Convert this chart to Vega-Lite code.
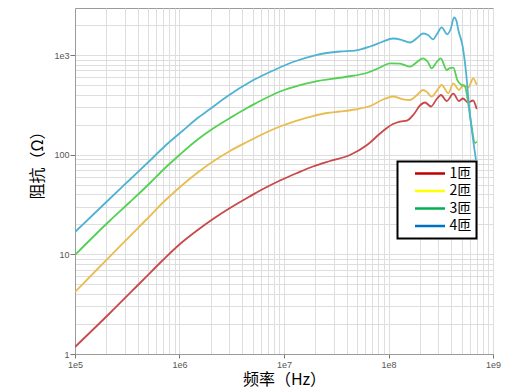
{
  "$schema": "https://vega.github.io/schema/vega-lite/v6.json",
  "width": 418,
  "height": 346,
  "autosize": {"type": "none"},
  "padding": {"left": 75, "top": 8, "right": 33, "bottom": 38},
  "background": "white",
  "config": {
    "view": {"stroke": "#9a9a9a", "strokeWidth": 1},
    "axis": {
      "labelFont": "Liberation Sans",
      "labelFontSize": 9,
      "labelColor": "#555555",
      "titleFont": "Noto Sans CJK SC",
      "titleFontSize": 16,
      "titleFontWeight": "normal",
      "titleColor": "#000000",
      "domainColor": "#9a9a9a",
      "tickColor": "#777777",
      "gridColor": "#dedede",
      "gridWidth": 1,
      "labelOverlap": false,
      "labelFlush": false
    }
  },
  "data": {
    "values": [
      {"f": 100000, "z": 1.176, "s": "1匝"},
      {"f": 216200, "z": 2.578, "s": "1匝"},
      {"f": 447400, "z": 5.527, "s": "1匝"},
      {"f": 695100, "z": 8.772, "s": "1匝"},
      {"f": 1011000, "z": 12.69, "s": "1匝"},
      {"f": 1471000, "z": 17.34, "s": "1匝"},
      {"f": 2092000, "z": 22.62, "s": "1匝"},
      {"f": 3043000, "z": 29.16, "s": "1匝"},
      {"f": 4424000, "z": 36.74, "s": "1匝"},
      {"f": 6295000, "z": 45.23, "s": "1匝"},
      {"f": 9156000, "z": 55.05, "s": "1匝"},
      {"f": 13320000, "z": 65.46, "s": "1匝"},
      {"f": 18940000, "z": 76.06, "s": "1匝"},
      {"f": 27550000, "z": 86.39, "s": "1匝"},
      {"f": 42810000, "z": 99.2, "s": "1匝"},
      {"f": 62290000, "z": 125.0, "s": "1匝"},
      {"f": 88600000, "z": 172.8, "s": "1匝"},
      {"f": 110400000, "z": 203.0, "s": "1匝"},
      {"f": 128800000, "z": 215.1, "s": "1匝"},
      {"f": 150300000, "z": 220.1, "s": "1匝"},
      {"f": 175400000, "z": 255.8, "s": "1匝"},
      {"f": 200100000, "z": 311.3, "s": "1匝"},
      {"f": 223500000, "z": 333.7, "s": "1匝"},
      {"f": 255100000, "z": 304.2, "s": "1匝"},
      {"f": 284900000, "z": 353.5, "s": "1匝"},
      {"f": 318000000, "z": 396.7, "s": "1匝"},
      {"f": 360600000, "z": 345.4, "s": "1匝"},
      {"f": 417000000, "z": 408.9, "s": "1匝"},
      {"f": 472800000, "z": 345.4, "s": "1匝"},
      {"f": 516400000, "z": 365.9, "s": "1匝"},
      {"f": 576500000, "z": 333.7, "s": "1匝"},
      {"f": 643500000, "z": 349.5, "s": "1匝"},
      {"f": 698200000, "z": 287.2, "s": "1匝"},

      {"f": 100000, "z": 4.19, "s": "2匝"},
      {"f": 173500, "z": 7.549, "s": "2匝"},
      {"f": 336000, "z": 15.27, "s": "2匝"},
      {"f": 488700, "z": 22.62, "s": "2匝"},
      {"f": 695100, "z": 33.11, "s": "2匝"},
      {"f": 1011000, "z": 47.37, "s": "2匝"},
      {"f": 1471000, "z": 65.46, "s": "2匝"},
      {"f": 2092000, "z": 85.38, "s": "2匝"},
      {"f": 3043000, "z": 108.8, "s": "2匝"},
      {"f": 4424000, "z": 134.0, "s": "2匝"},
      {"f": 6295000, "z": 161.2, "s": "2匝"},
      {"f": 9156000, "z": 191.6, "s": "2匝"},
      {"f": 13320000, "z": 220.1, "s": "2匝"},
      {"f": 18940000, "z": 244.3, "s": "2匝"},
      {"f": 25790000, "z": 261.8, "s": "2匝"},
      {"f": 34350000, "z": 271.0, "s": "2匝"},
      {"f": 47790000, "z": 283.9, "s": "2匝"},
      {"f": 66530000, "z": 307.7, "s": "2匝"},
      {"f": 86670000, "z": 353.5, "s": "2匝"},
      {"f": 110400000, "z": 383.2, "s": "2匝"},
      {"f": 134700000, "z": 361.7, "s": "2匝"},
      {"f": 160600000, "z": 353.5, "s": "2匝"},
      {"f": 187400000, "z": 396.7, "s": "2匝"},
      {"f": 213900000, "z": 445.4, "s": "2匝"},
      {"f": 233600000, "z": 425.3, "s": "2匝"},
      {"f": 259100000, "z": 381.5, "s": "2匝"},
      {"f": 284900000, "z": 425.3, "s": "2匝"},
      {"f": 322900000, "z": 499.8, "s": "2匝"},
      {"f": 373500000, "z": 412.7, "s": "2匝"},
      {"f": 417000000, "z": 520.0, "s": "2匝"},
      {"f": 472800000, "z": 445.4, "s": "2匝"},
      {"f": 519800000, "z": 499.8, "s": "2匝"},
      {"f": 580300000, "z": 474.0, "s": "2匝"},
      {"f": 647800000, "z": 583.5, "s": "2匝"},
      {"f": 698200000, "z": 499.8, "s": "2匝"},

      {"f": 100000, "z": 9.85, "s": "3匝"},
      {"f": 216200, "z": 21.85, "s": "3匝"},
      {"f": 336000, "z": 33.5, "s": "3匝"},
      {"f": 522000, "z": 51.95, "s": "3匝"},
      {"f": 695100, "z": 70.2, "s": "3匝"},
      {"f": 1011000, "z": 100.4, "s": "3匝"},
      {"f": 1471000, "z": 140.3, "s": "3匝"},
      {"f": 2092000, "z": 183.0, "s": "3匝"},
      {"f": 3043000, "z": 233.2, "s": "3匝"},
      {"f": 4424000, "z": 293.9, "s": "3匝"},
      {"f": 6295000, "z": 357.6, "s": "3匝"},
      {"f": 9156000, "z": 430.3, "s": "3匝"},
      {"f": 14230000, "z": 499.8, "s": "3匝"},
      {"f": 19800000, "z": 542.0, "s": "3匝"},
      {"f": 38350000, "z": 601.4, "s": "3匝"},
      {"f": 63660000, "z": 667.2, "s": "3匝"},
      {"f": 82950000, "z": 748.9, "s": "3匝"},
      {"f": 103400000, "z": 825.0, "s": "3匝"},
      {"f": 128800000, "z": 821.0, "s": "3匝"},
      {"f": 160600000, "z": 763.0, "s": "3匝"},
      {"f": 187400000, "z": 850.3, "s": "3匝"},
      {"f": 213900000, "z": 926.4, "s": "3匝"},
      {"f": 236200000, "z": 860.3, "s": "3匝"},
      {"f": 259100000, "z": 735.2, "s": "3匝"},
      {"f": 284900000, "z": 830.9, "s": "3匝"},
      {"f": 315900000, "z": 926.4, "s": "3匝"},
      {"f": 360600000, "z": 706.9, "s": "3匝"},
      {"f": 387700000, "z": 740.3, "s": "3匝"},
      {"f": 417000000, "z": 745.5, "s": "3匝"},
      {"f": 455500000, "z": 561.0, "s": "3匝"},
      {"f": 501700000, "z": 499.8, "s": "3匝"},
      {"f": 539700000, "z": 482.8, "s": "3匝"},
      {"f": 580300000, "z": 322.3, "s": "3匝"},
      {"f": 625600000, "z": 187.3, "s": "3匝"},
      {"f": 672500000, "z": 130.9, "s": "3匝"},
      {"f": 702800000, "z": 135.5, "s": "3匝"},

      {"f": 100000, "z": 16.75, "s": "4匝"},
      {"f": 216200, "z": 36.32, "s": "4匝"},
      {"f": 336000, "z": 56.33, "s": "4匝"},
      {"f": 522000, "z": 87.38, "s": "4匝"},
      {"f": 726400, "z": 122.2, "s": "4匝"},
      {"f": 1080000, "z": 174.8, "s": "4匝"},
      {"f": 1471000, "z": 230.6, "s": "4匝"},
      {"f": 1958000, "z": 287.2, "s": "4匝"},
      {"f": 2848000, "z": 383.2, "s": "4匝"},
      {"f": 4727000, "z": 535.8, "s": "4匝"},
      {"f": 7345000, "z": 675.0, "s": "4匝"},
      {"f": 12190000, "z": 850.3, "s": "4匝"},
      {"f": 20240000, "z": 999.7, "s": "4匝"},
      {"f": 34350000, "z": 1084, "s": "4匝"},
      {"f": 47790000, "z": 1109, "s": "4匝"},
      {"f": 66530000, "z": 1217, "s": "4匝"},
      {"f": 86670000, "z": 1350, "s": "4匝"},
      {"f": 110400000, "z": 1464, "s": "4匝"},
      {"f": 134700000, "z": 1414, "s": "4匝"},
      {"f": 160600000, "z": 1335, "s": "4匝"},
      {"f": 187400000, "z": 1481, "s": "4匝"},
      {"f": 213900000, "z": 1643, "s": "4匝"},
      {"f": 238800000, "z": 1587, "s": "4匝"},
      {"f": 266600000, "z": 1437, "s": "4匝"},
      {"f": 291200000, "z": 1624, "s": "4匝"},
      {"f": 322900000, "z": 1896, "s": "4匝"},
      {"f": 365300000, "z": 1613, "s": "4匝"},
      {"f": 396400000, "z": 1866, "s": "4匝"},
      {"f": 423500000, "z": 2388, "s": "4匝"},
      {"f": 447400000, "z": 2193, "s": "4匝"},
      {"f": 465600000, "z": 1781, "s": "4匝"},
      {"f": 513000000, "z": 1211, "s": "4匝"},
      {"f": 551600000, "z": 675, "s": "4匝"},
      {"f": 589200000, "z": 314.9, "s": "4匝"},
      {"f": 636400000, "z": 157.5, "s": "4匝"},
      {"f": 687500000, "z": 88.4, "s": "4匝"}
    ]
  },
  "encoding": {
    "x": {
      "field": "f",
      "type": "quantitative",
      "scale": {"type": "log", "domain": [100000, 1000000000], "nice": false},
      "axis": {
        "title": "频率（Hz）",
        "titlePadding": 2,
        "values": [100000, 200000, 300000, 400000, 500000, 600000, 700000, 800000, 900000,
                   1000000, 2000000, 3000000, 4000000, 5000000, 6000000, 7000000, 8000000, 9000000,
                   10000000, 20000000, 30000000, 40000000, 50000000, 60000000, 70000000, 80000000, 90000000,
                   100000000, 200000000, 300000000, 400000000, 500000000, 600000000, 700000000, 800000000, 900000000,
                   1000000000],
        "labelExpr": "indexof([100000,1000000,10000000,100000000,1000000000], datum.value) >= 0 ? '1e' + round(log(datum.value)/LN10) : ''",
        "tickSize": 4,
        "labelPadding": 2,
        "tickOpacity": {"condition": {"test": "indexof([100000,1000000,10000000,100000000,1000000000], datum.value) >= 0", "value": 1}, "value": 0}
      }
    },
    "y": {
      "field": "z",
      "type": "quantitative",
      "scale": {"type": "log", "domain": [1, 2962], "nice": false},
      "axis": {
        "title": "阻抗（Ω）",
        "titleX": -38,
        "titleY": 153,
        "titleBaseline": "middle",
        "values": [1, 2, 3, 4, 5, 6, 7, 8, 9, 10, 20, 30, 40, 50, 60, 70, 80, 90,
                   100, 200, 300, 400, 500, 600, 700, 800, 900, 1000, 2000],
        "labelExpr": "datum.value == 1 ? '1' : datum.value == 10 ? '10' : datum.value == 100 ? '100' : datum.value == 1000 ? '1e3' : ''",
        "tickSize": 5,
        "labelPadding": 1,
        "tickOpacity": {"condition": {"test": "indexof([1,10,100,1000], datum.value) >= 0", "value": 1}, "value": 0}
      }
    }
  },
  "layer": [
    {
      "mark": {"type": "line", "strokeWidth": 1.8, "strokeOpacity": 0, "interpolate": "monotone", "clip": true},
      "encoding": {
        "color": {
          "field": "s",
          "type": "nominal",
          "scale": {"domain": ["1匝", "2匝", "3匝", "4匝"], "range": ["#c00000", "#ffff00", "#00b050", "#0070c0"]},
          "legend": {
            "title": null,
            "orient": "none",
            "legendX": 322.5,
            "legendY": 153.5,
            "padding": 5,
            "symbolType": "M1.1,0L7.1,0",
            "symbolSize": 100,
            "symbolStrokeWidth": 2.5,
            "symbolOpacity": 1,
            "labelOffset": 33,
            "labelFont": "Noto Sans CJK SC",
            "labelFontSize": 14,
            "labelColor": "#000000",
            "rowPadding": 3.5,
            "labelExpr": "datum.label + '　'",
            "fillColor": "white",
            "strokeColor": "black",
            "encode": {
              "legend": {"update": {"strokeWidth": {"value": 2}}},
              "symbols": {"update": {"strokeOpacity": {"value": 1}, "opacity": {"value": 1}}}
            }
          }
        }
      }
    },
    {
      "mark": {"type": "line", "strokeWidth": 1.8, "interpolate": "monotone", "clip": true},
      "encoding": {
        "color": {
          "field": "s",
          "type": "nominal",
          "scale": {"domain": ["1匝", "2匝", "3匝", "4匝"], "range": ["#c9484a", "#e9bc4f", "#52d152", "#4eb3d3"]},
          "legend": null
        }
      }
    }
  ],
  "resolve": {"scale": {"color": "independent"}, "legend": {"color": "independent"}}
}
